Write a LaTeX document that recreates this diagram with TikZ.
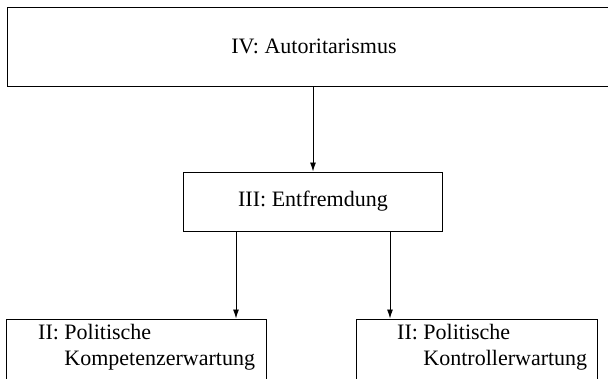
\documentclass[tikz,border=0pt]{standalone}
\usepackage{fontspec}
\setmainfont{Liberation Serif}
\usetikzlibrary{arrows.meta}

\begin{document}
\begin{tikzpicture}[x=1pt, y=-1pt,
    box/.style={draw, line width=1pt, inner sep=0pt},
    arr/.style={line width=0.9pt, -{Latex[length=9pt,width=6pt]}},
    font=\fontsize{22}{26}\selectfont]
    \useasboundingbox (0,0) rectangle (608,378);
    \clip (0,0) rectangle (608,378);
    % Kaesten
    \node[box, minimum width=614pt, minimum height=79pt] (auto) at (314,46.5) {IV: Autoritarismus};
    \node[box, minimum width=259pt, minimum height=59pt] (entf) at (313,201.5) {III: Entfremdung};
    \node[box, minimum width=260pt, minimum height=80pt] (komp) at (136,359) {};
    \node[box, minimum width=241pt, minimum height=80pt] (kontr) at (476.5,359) {};
    \node[anchor=north west, inner sep=0pt, align=left] (komptext) at (38,324)
        {II: Politische\\\hphantom{II:\ }Kompetenzerwartung};
    \node[anchor=north west, inner sep=0pt, align=left] (kontrtext) at (397,324)
        {II: Politische\\\hphantom{II:\ }Kontrollerwartung};
    % Pfeile
    \draw[arr] (entf.north |- auto.south) -- (entf.north);
    \draw[arr] ([xshift=-77pt]entf.south) -- ([xshift=-77pt]entf.south |- komp.north);
    \draw[arr] ([xshift=77pt]entf.south) -- ([xshift=77pt]entf.south |- kontr.north);
\end{tikzpicture}
\end{document}
